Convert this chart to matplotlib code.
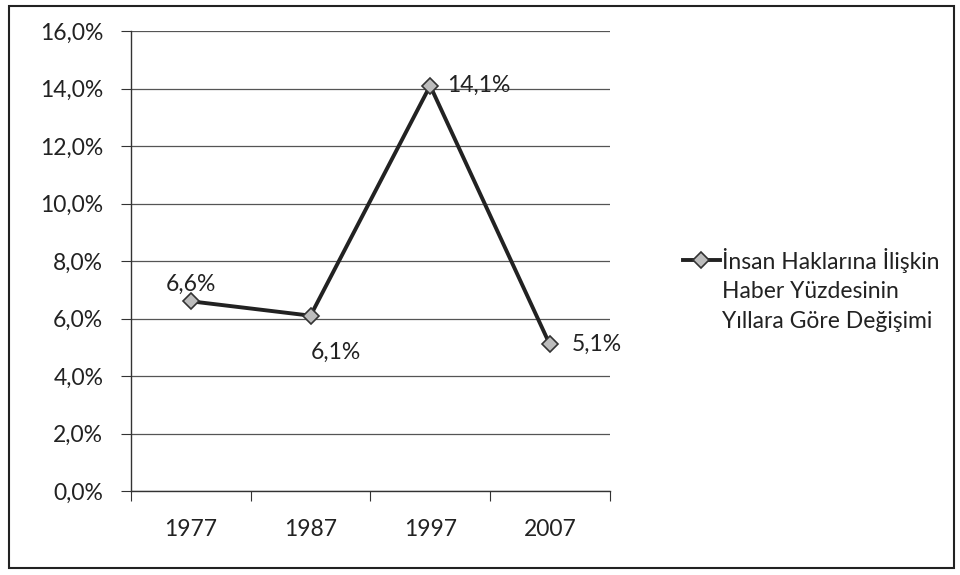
import matplotlib
matplotlib.use("Agg")
import matplotlib.pyplot as plt
from matplotlib.patches import Rectangle

years = ["1977", "1987", "1997", "2007"]
values = [6.6, 6.1, 14.1, 5.1]
labels = ["6,6%", "6,1%", "14,1%", "5,1%"]
series_lines = ["İnsan Haklarına İlişkin", "Haber Yüzdesinin", "Yıllara Göre Değişimi"]
y_ticks = [0, 2, 4, 6, 8, 10, 12, 14, 16]

plt.rcParams['font.family'] = ['Lato', 'DejaVu Sans']
FS = 16.5
W, H = 960, 575
TXT = '#222222'

fig = plt.figure(figsize=(9.6, 5.75), dpi=100)
ax = fig.add_axes([0.1365, 0.146, 0.4985, 0.8])

x = list(range(len(years)))
line, = ax.plot(x, values, color='#222222', linewidth=2.8, marker='D', markersize=8,
                markerfacecolor='#bdbdbd', markeredgecolor='#333333', markeredgewidth=1.2,
                label=series_lines[0])

# data labels
offsets = [(0, 5, 'center', 'bottom'), (18, -19, 'center', 'top'),
           (12, 0, 'left', 'center'), (16, 0, 'left', 'center')]
for xi, v, lab, (dx, dy, ha, va) in zip(x, values, labels, offsets):
    ax.annotate(lab, (xi, v), xytext=(dx, dy), textcoords='offset points',
                ha=ha, va=va, fontsize=FS, color=TXT)

ax.set_ylim(0, 16)
ax.set_xlim(-0.5, 3.5)
ax.set_yticks(y_ticks)
ax.set_yticklabels([f"{t:.1f}%".replace('.', ',') for t in y_ticks], fontsize=FS, color=TXT)
ax.set_xticks([i + 0.5 for i in range(-1, len(years))])
ax.set_xticklabels([])
ax.set_xticks(x, minor=True)
ax.set_xticklabels(years, minor=True, fontsize=FS, color=TXT)
ax.tick_params(axis='x', which='minor', length=0, pad=20)
ax.tick_params(axis='x', which='major', direction='out', length=7, color='#333333')
ax.tick_params(axis='y', direction='out', length=7, color='#333333', pad=13)

ax.yaxis.grid(True, color='#555555', linewidth=0.9)
ax.set_axisbelow(True)
for s in ['top', 'right']:
    ax.spines[s].set_visible(False)
for s in ['left', 'bottom']:
    ax.spines[s].set_color('#333333')
    ax.spines[s].set_linewidth(1.0)

# legend: marker on the first line of the series name, like Excel
leg = fig.legend(handles=[line], loc='center left', bbox_to_anchor=(683 / W, 1 - 260 / H),
                 frameon=False, fontsize=FS, handlelength=1.6, handletextpad=0.1,
                 borderpad=0, borderaxespad=0, labelcolor=TXT)
fig.canvas.draw()
tb = leg.get_texts()[0].get_window_extent()
for k, txt in enumerate(series_lines[1:], start=1):
    fig.text(tb.x0 / W, (1 - 260 / H) - k * 31 / H, txt, fontsize=FS,
             ha='left', va='center', color=TXT)

# outer chart border
fig.patches.append(Rectangle((0.009, 0.012), 0.985, 0.978, transform=fig.transFigure,
                             fill=False, edgecolor='#222222', linewidth=1.5))

fig.savefig("out.png", dpi=100)
